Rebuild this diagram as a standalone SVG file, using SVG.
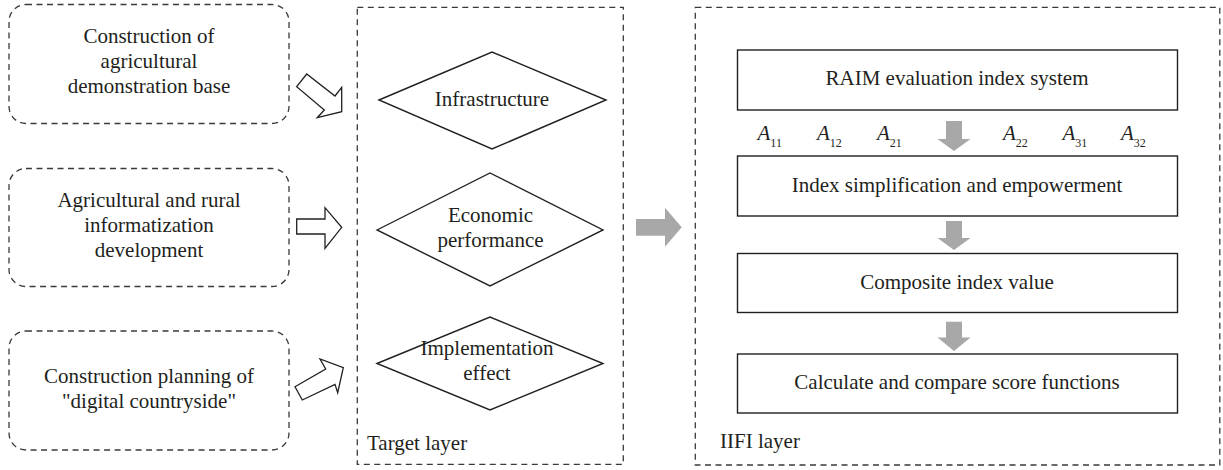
<svg xmlns="http://www.w3.org/2000/svg" width="1223" height="470" viewBox="0 0 1223 470">
  <style>
    .bg { fill: #ffffff; }
    .dash { fill: none; stroke: #3a3a3a; stroke-width: 1.3; stroke-dasharray: 6 4.5; }
    .solid { fill: #ffffff; stroke: #231f20; stroke-width: 1.4; }
    .outline-arrow { fill: #ffffff; stroke: #231f20; stroke-width: 1.3; stroke-linejoin: miter; }
    .gray-arrow { fill: #a8a8a8; stroke: none; }
    .t { font-family: "Liberation Serif", "Times New Roman", serif; font-size: 21px; fill: #231f20; text-anchor: middle; }
    .lbl { font-family: "Liberation Serif", "Times New Roman", serif; font-size: 21px; fill: #231f20; }
    .var { font-family: "Liberation Serif", "Times New Roman", serif; font-size: 21px; font-style: italic; fill: #231f20; }
    .sub { font-size: 12px; font-style: normal; }
  </style>

  <rect class="bg" x="0" y="0" width="1223" height="470"/>

  <!-- Input factors on the left -->
  <g id="node-demo-base">
    <rect class="dash" x="9" y="4.5" width="280" height="119" rx="17" ry="17"/>
    <text class="t" x="149" y="43">Construction of</text>
    <text class="t" x="149" y="68">agricultural</text>
    <text class="t" x="149" y="93">demonstration base</text>
  </g>
  <g id="node-informatization">
    <rect class="dash" x="9" y="168.5" width="280" height="118" rx="17" ry="17"/>
    <text class="t" x="149" y="207">Agricultural and rural</text>
    <text class="t" x="149" y="232">informatization</text>
    <text class="t" x="149" y="257">development</text>
  </g>
  <g id="node-digital-countryside">
    <rect class="dash" x="9" y="331" width="280" height="119" rx="17" ry="17"/>
    <text class="t" x="149" y="383">Construction planning of</text>
    <text class="t" x="149" y="408">"digital countryside"</text>
  </g>

  <!-- Target layer -->
  <g id="node-target-layer">
    <rect class="dash" x="357.3" y="7.3" width="266" height="457"/>
    <text class="lbl" x="367" y="450">Target layer</text>
  </g>
  <g id="node-infrastructure">
    <polygon class="solid" points="379,100 492,52 606,100 492,149"/>
    <text class="t" x="492" y="106">Infrastructure</text>
  </g>
  <g id="node-economic">
    <polygon class="solid" points="377,230 490,173 603,230 490,286"/>
    <text class="t" x="490.5" y="222">Economic</text>
    <text class="t" x="490.5" y="247">performance</text>
  </g>
  <g id="node-implementation">
    <polygon class="solid" points="377,363.5 490,317 603,363.5 490,410"/>
    <text class="t" x="487" y="355">Implementation</text>
    <text class="t" x="487" y="380">effect</text>
  </g>

  <!-- IIFI layer -->
  <g id="node-iifi-layer">
    <rect class="dash" x="695.3" y="7.3" width="524.5" height="457.7"/>
    <text class="lbl" x="720" y="448">IIFI layer</text>
  </g>
  <g id="node-raim">
    <rect class="solid" x="737.5" y="50" width="440" height="60"/>
    <text class="t" x="957" y="85">RAIM evaluation index system</text>
  </g>
  <g id="node-weights">
    <text class="var" x="757.5" y="140">A<tspan class="sub" dy="6.5">11</tspan></text>
    <text class="var" x="817" y="140">A<tspan class="sub" dy="6.5">12</tspan></text>
    <text class="var" x="877" y="140">A<tspan class="sub" dy="6.5">21</tspan></text>
    <text class="var" x="1003" y="140">A<tspan class="sub" dy="6.5">22</tspan></text>
    <text class="var" x="1062.5" y="140">A<tspan class="sub" dy="6.5">31</tspan></text>
    <text class="var" x="1121" y="140">A<tspan class="sub" dy="6.5">32</tspan></text>
  </g>
  <g id="node-simplification">
    <rect class="solid" x="737.5" y="156" width="440" height="60"/>
    <text class="t" x="957" y="192">Index simplification and empowerment</text>
  </g>
  <g id="node-composite">
    <rect class="solid" x="737.5" y="253.5" width="440" height="59"/>
    <text class="t" x="957" y="288.5">Composite index value</text>
  </g>
  <g id="node-score">
    <rect class="solid" x="737.5" y="354" width="440" height="59"/>
    <text class="t" x="957" y="388.5">Calculate and compare score functions</text>
  </g>

  <!-- Connectors -->
  <g id="connectors">
    <polygon class="outline-arrow" points="296.7,86.7 306.7,74 335,96 341.7,87.3 341.7,111.7 317.3,117.7 324.3,110"/>
    <polygon class="outline-arrow" points="296.7,219 325,219 325,207.7 341.7,227.3 325,248.3 325,234 296.7,234"/>
    <polygon class="outline-arrow" points="295,386.7 325.7,369 320,359 343.3,367.7 337.7,392.7 335,384.3 302.3,400"/>
    <polygon class="gray-arrow" points="636,219 665,219 665,207.7 681.7,227.3 665,246.7 665,235.7 636,235.7"/>
    <polygon class="gray-arrow" points="946,121 962,121 962,139 970.5,139 954,151 937.5,139 946,139"/>
    <polygon class="gray-arrow" points="946,221 962,221 962,238 970.5,238 954,250 937.5,238 946,238"/>
    <polygon class="gray-arrow" points="946,321.7 962,321.7 962,337.5 970.5,337.5 954,351 937.5,337.5 946,337.5"/>
  </g>
</svg>
